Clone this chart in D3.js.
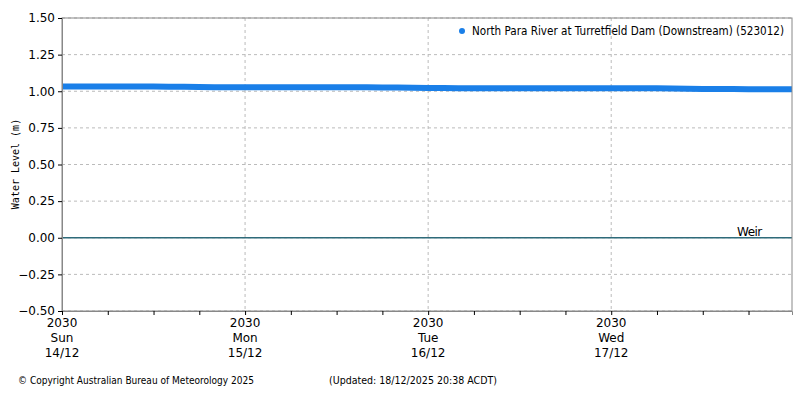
<!DOCTYPE html>
<html><head><meta charset="utf-8">
<script src="https://cdn.jsdelivr.net/npm/d3@7"></script>
<style>body{margin:0;background:#fff;font-family:"DejaVu Sans",sans-serif;}</style>
</head><body><div id="chart"></div>
<script>
// data: water level every 2 hours from 14/12 20:30
var levels = [1.032,1.032,1.032,1.033,1.033,1.032,1.032,1.031,1.030,1.029,1.028,1.027,
  1.027,1.027,1.027,1.027,1.027,1.027,1.027,1.027,1.027,1.026,1.025,1.024,
  1.023,1.022,1.021,1.021,1.021,1.021,1.021,1.021,1.021,1.021,1.021,1.021,
  1.021,1.020,1.020,1.020,1.019,1.017,1.016,1.016,1.015,1.014,1.014,1.014];
var yTicks = [1.5,1.25,1.0,0.75,0.5,0.25,0,-0.25,-0.5];
var dayLabels = [["2030","Sun","14/12"],["2030","Mon","15/12"],["2030","Tue","16/12"],["2030","Wed","17/12"]];
var seriesName = "North Para River at Turretfield Dam (Downstream) (523012)";

var svgWidth = 800, svgHeight = 400;
var margin = {top: 18, right: 8, bottom: 89, left: 62};
var width = svgWidth - margin.left - margin.right;
var height = svgHeight - margin.top - margin.bottom;

var svg = d3.select("#chart").append("svg").attr("width", svgWidth).attr("height", svgHeight);
var g = svg.append("g").attr("transform", `translate(${margin.left},${margin.top})`);

var x = d3.scaleLinear().domain([0, 95.7]).range([0, width]);
var y = d3.scaleLinear().domain([-0.5, 1.5]).range([height, 0]);

// grid
g.selectAll("line.hg").data(yTicks).enter().append("line")
  .attr("x1", 0).attr("x2", width).attr("y1", d => y(d)).attr("y2", d => y(d))
  .attr("stroke", "#bbb").attr("stroke-dasharray", "3,3");
g.selectAll("line.vg").data([24,48,72]).enter().append("line")
  .attr("x1", d => x(d)).attr("x2", d => x(d)).attr("y1", 0).attr("y2", height)
  .attr("stroke", "#bbb").attr("stroke-dasharray", "3,3");

// weir
g.append("line").attr("x1", 0).attr("x2", width).attr("y1", y(0)).attr("y2", y(0))
  .attr("stroke", "#2e6b7a").attr("stroke-width", 1.5);
g.append("text").attr("x", x(88.5)).attr("y", y(0) - 2).attr("font-size", 12)
  .attr("textLength", 25).text("Weir");

// series
var line = d3.line().x(d => x(d[0])).y(d => y(d[1]));
g.append("path").datum(levels.map((v, i) => [i * 2, v]).concat([[95.7, 1.014]]))
  .attr("d", line).attr("fill", "none").attr("stroke", "#1a7fe8").attr("stroke-width", 6);

// frame
g.append("rect").attr("width", width).attr("height", height).attr("fill", "none").attr("stroke", "#888");

// y axis
var yAxis = g.append("g").call(d3.axisLeft(y).tickValues(yTicks).tickFormat(d3.format(".2f")).tickSize(4));
yAxis.selectAll("text").attr("font-size", 12).attr("fill", "#000").attr("font-family", "DejaVu Sans");
yAxis.select(".domain").attr("stroke", "#888");
yAxis.selectAll(".tick line").attr("stroke", "#000");

// x axis
var xAxis = g.append("g").attr("transform", `translate(0,${height})`)
  .call(d3.axisBottom(x).tickValues(d3.range(0, 96, 6)).tickFormat("").tickSize(4));
xAxis.select(".domain").attr("stroke", "#888");
xAxis.selectAll(".tick line").attr("stroke", "#000");
var xl = g.selectAll("text.xl").data(dayLabels).enter().append("text")
  .attr("x", (d, i) => x(i * 24)).attr("y", height + 16).attr("text-anchor", "middle").attr("font-size", 12);
xl.selectAll("tspan").data(d => d).enter().append("tspan")
  .attr("x", function() { return this.parentNode.getAttribute("x"); })
  .attr("dy", (d, i) => i ? 15 : 0).text(d => d);

// y label
svg.append("text").attr("transform", "translate(19,164) rotate(-90)").attr("text-anchor", "middle")
  .attr("font-size", 10).attr("font-family", "DejaVu Sans Mono").text("Water Level (m)");

// legend
svg.append("circle").attr("cx", 462).attr("cy", 31).attr("r", 3).attr("fill", "#1a7fe8");
svg.append("text").attr("x", 472).attr("y", 35).attr("font-size", 12)
  .attr("textLength", 312).attr("lengthAdjust", "spacingAndGlyphs").text(seriesName);

// footer
svg.append("text").attr("x", 18).attr("y", 384).attr("font-size", 10)
  .attr("textLength", 236).attr("lengthAdjust", "spacingAndGlyphs").text("© Copyright Australian Bureau of Meteorology 2025");
svg.append("text").attr("x", 329).attr("y", 384).attr("font-size", 10)
  .attr("textLength", 168).attr("lengthAdjust", "spacingAndGlyphs").text("(Updated: 18/12/2025 20:38 ACDT)");
</script></body></html>
